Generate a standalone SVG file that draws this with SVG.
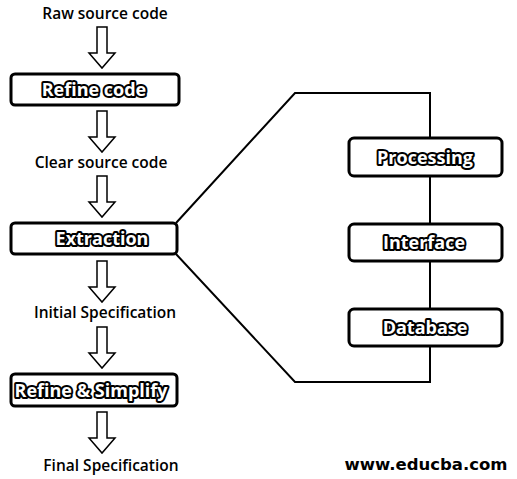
<svg xmlns="http://www.w3.org/2000/svg" width="517" height="479" viewBox="0 0 517 479">
<style>
.box{fill:#fff;stroke:#000;stroke-width:3}
.bt{font-family:"Open Sans",sans-serif;font-weight:bold;font-size:18px;fill:#fff;stroke:#000;stroke-width:4;paint-order:stroke;stroke-linejoin:round;text-anchor:middle}
.lbl{font-family:"Open Sans",sans-serif;font-weight:600;font-size:15.5px;fill:#000;text-anchor:middle}
.arr{fill:#fff;stroke:#000;stroke-width:1.5;stroke-linejoin:miter}
.ln{fill:none;stroke:#000;stroke-width:2}
</style>
<defs>
<path id="ar" d="M-5,0 H5 V26 H13 L0,41 L-13,26 H-5 Z"/>
</defs>
<rect width="517" height="479" fill="#fff"/>
<g id="connectors">
<path class="ln" d="M176,223 L295,93 H430 V382 H295 L176,254"/>
<use href="#ar" class="arr" x="102" y="27"/>
<use href="#ar" class="arr" x="102" y="111"/>
<use href="#ar" class="arr" x="102" y="176"/>
<use href="#ar" class="arr" x="102" y="261"/>
<use href="#ar" class="arr" x="102" y="327"/>
<use href="#ar" class="arr" x="102" y="412"/>
</g>
<g id="raw"><text class="lbl" x="105" y="19">Raw source code</text></g>
<g id="refine-code"><rect class="box" x="11" y="74" width="168" height="31" rx="4"/><text class="bt" x="94" y="96">Refine code</text></g>
<g id="clear"><text class="lbl" x="101" y="168">Clear source code</text></g>
<g id="extraction"><rect class="box" x="11" y="223" width="166" height="31" rx="4"/><text class="bt" x="102" y="245">Extraction</text></g>
<g id="initial"><text class="lbl" x="105" y="318">Initial Specification</text></g>
<g id="refine-simplify"><rect class="box" x="11" y="374" width="166" height="32" rx="4"/><text class="bt" x="91" y="397">Refine &amp; Simplify</text></g>
<g id="final"><text class="lbl" x="111" y="471">Final Specification</text></g>
<g id="processing"><rect class="box" x="349" y="138" width="153" height="38" rx="5"/><text class="bt" x="425" y="164">Processing</text></g>
<g id="interface"><rect class="box" x="349" y="224" width="153" height="37" rx="5"/><text class="bt" x="424" y="249">Interface</text></g>
<g id="database"><rect class="box" x="349" y="309" width="153" height="37" rx="5"/><text class="bt" x="425" y="334">Database</text></g>
<g id="watermark"><text x="426" y="470" style="font-family:'DejaVu Sans',sans-serif;font-weight:bold;font-size:16.5px;text-anchor:middle">www.educba.com</text></g>
</svg>
